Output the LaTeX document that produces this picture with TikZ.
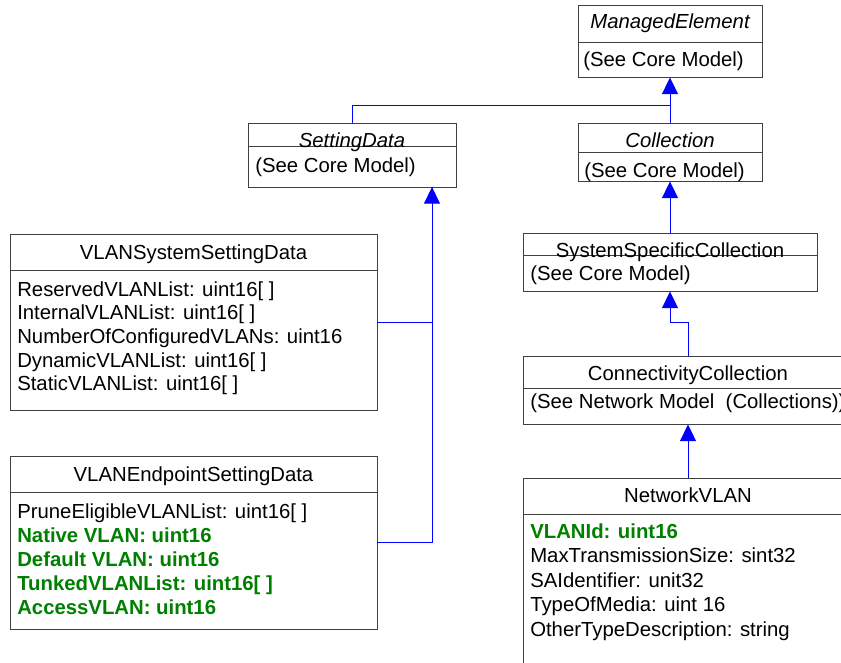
\documentclass[tikz,border=0pt]{standalone}
\usepackage{fontspec}
\setmainfont{Liberation Sans}
\usetikzlibrary{arrows.meta,positioning}
\definecolor{vlangreen}{RGB}{0,128,0}

\begin{document}
\begin{tikzpicture}[
  x=0.75pt, y=-0.75pt,
  font=\fontsize{15.25pt}{18pt}\selectfont,
  classbox/.style={rectangle, draw=black!75, line width=0.7pt, inner sep=0pt},
  divider/.style={draw=black!75, line width=0.7pt},
  title/.style={anchor=base, inner sep=0pt},
  abstitle/.style={title, font=\fontsize{15.25pt}{18pt}\selectfont\itshape},
  attr/.style={anchor=base west, inner sep=0pt},
  keyattr/.style={attr, text=vlangreen, font=\fontsize{15.25pt}{18pt}\selectfont\bfseries},
  assoc/.style={draw=blue, line width=0.7pt},
  inherit/.style={assoc, -{Triangle[width=12pt,length=12.5pt]}}
]
\useasboundingbox (0,0) rectangle (841,662);
\clip (0,0) rectangle (841,662);

% class boxes
\node[classbox, minimum width=138pt, minimum height=54pt] (me) at (670,41) {};
\node[classbox, minimum width=156pt, minimum height=48pt] (sd) at (352,155) {};
\node[classbox, minimum width=138pt, minimum height=43.5pt] (coll) at (670,152) {};
\node[classbox, minimum width=220.5pt, minimum height=43.5pt] (ssc) at (670,262) {};
\node[classbox, minimum width=247.5pt, minimum height=51pt] (cc) at (688,390) {};
\node[classbox, minimum width=247.5pt, minimum height=166.5pt] (nv) at (688,589) {};
\node[classbox, minimum width=275.25pt, minimum height=132pt] (vss) at (193.5,322) {};
\node[classbox, minimum width=275.25pt, minimum height=129.75pt] (ves) at (193.5,542.5) {};

\foreach \b/\y in {me/42, sd/146, coll/152, ssc/255, cc/388, nv/514, vss/270, ves/492}
  \draw[divider] (\b.west |- 0,\y) -- (\b.east |- 0,\y);

% titles
\node[abstitle] (metitle) at (670,28) {ManagedElement};
\node[abstitle] (sdtitle) at (352,147) {SettingData};
\node[abstitle] (colltitle) at (670,147) {Collection};
\node[title] (ssctitle) at (670,257) {SystemSpecificCollection};
\node[title] (cctitle) at (688,380) {ConnectivityCollection};
\node[title] (nvtitle) at (688,502) {NetworkVLAN};
\node[title] (vsstitle) at (193.5,259) {VLANSystemSettingData};
\node[title] (vestitle) at (193.5,481) {VLANEndpointSettingData};

% bodies
\node[attr] (mebody) at (583,66) {(See Core Model)};
\node[attr] (sdbody) at (255,172) {(See Core Model)};
\node[attr] (collbody) at (584,177) {(See Core Model)};
\node[attr] (sscbody) at (530,280) {(See Core Model)};
\node[attr] (ccbody) at (530,408) {(See Network Model\ \ (Collections))};

\foreach \txt [count=\i from 0] in {{ReservedVLANList: uint16[ ]}, {InternalVLANList: uint16[ ]},
    {NumberOfConfiguredVLANs: uint16}, {DynamicVLANList: uint16[ ]}, {StaticVLANList: uint16[ ]}}
  \node[attr] (vss\i) at (17,296+23.7*\i) {\txt};

\foreach \s/\txt [count=\i from 0] in {attr/{PruneEligibleVLANList: uint16[ ]}, keyattr/{Native VLAN: uint16},
    keyattr/{Default VLAN: uint16}, keyattr/{TunkedVLANList: uint16[ ]}, keyattr/{AccessVLAN: uint16}}
  \node[\s] (ves\i) at (17,518+24*\i) {\txt};

\foreach \s/\txt [count=\i from 0] in {keyattr/{VLANId: uint16}, attr/{MaxTransmissionSize: sint32},
    attr/{SAIdentifier: unit32}, attr/{TypeOfMedia: uint 16}, attr/{OtherTypeDescription: string}}
  \node[\s] (nv\i) at (530,538+24.5*\i) {\txt};

% inheritance
\coordinate (mejoin) at (670,105);
\coordinate (sdin) at (432,187);
\draw[inherit] (coll.north) -- (me.south);
\draw[assoc] (sd.north) |- (mejoin);
\draw[inherit] (ssc.north) -- (coll.south);
\draw[inherit] (cc.north) -- ++(0,-33) -| (ssc.south);
\draw[inherit] (nv.north) -- (cc.south);
\draw[assoc] (ves.east) -| (sdin);
\draw[inherit] (vss.east) -| (sdin);
\end{tikzpicture}
\end{document}
